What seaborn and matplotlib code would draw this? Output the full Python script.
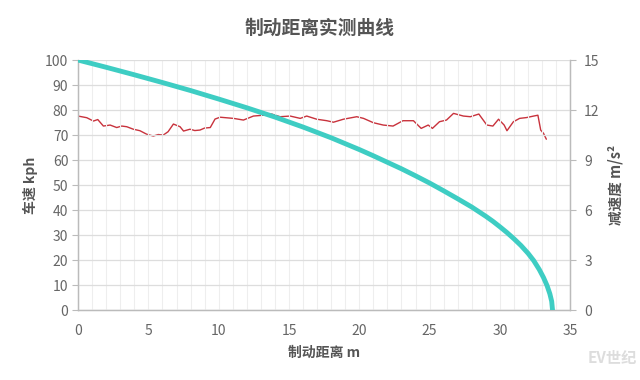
import matplotlib
matplotlib.use('Agg')
import matplotlib.pyplot as plt
import seaborn as sns
import pandas as pd
from matplotlib.ticker import MultipleLocator

# ---- data ----
dist = [0, 2, 4, 6, 8, 10, 12, 14, 16, 18, 20, 21, 22, 23, 24, 25, 26, 27,
        28, 29, 29.5, 30, 30.5, 31, 31.5, 32, 32.4, 32.8, 33.1, 33.35,
        33.55, 33.68, 33.74]
speed = [100, 97.1, 94.1, 91.0, 87.8, 84.4, 80.9, 77.2, 73.2, 68.9, 64.2,
         61.7, 59.1, 56.5, 53.7, 50.8, 47.7, 44.5, 41.2, 37.5, 35.5, 33.3,
         31.0, 28.5, 25.8, 22.7, 19.8, 16.2, 13.0, 9.8, 6.5, 3.5, 0]

dec_dist = [0, 0.62, 1.09, 1.4, 1.8, 2.28, 2.75, 3.1, 3.46, 3.93, 4.4, 4.88,
            5.35, 5.7, 6.06, 6.4, 6.78, 7.25, 7.5, 7.96, 8.3, 8.67, 9.0, 9.4,
            9.74, 10.1, 11.05, 11.76, 12.47, 13.18, 13.77, 14.37, 15.08, 15.8,
            16.26, 16.97, 17.69, 18.16, 18.87, 19.82, 20.3, 21.0, 21.7, 22.4,
            23.1, 23.85, 24.4, 24.9, 25.2, 25.7, 26.2, 26.7, 27.4, 27.9, 28.5,
            29.07, 29.5, 29.9, 30.3, 30.5, 30.96, 31.4, 31.9, 32.4, 32.7,
            32.9, 33.1, 33.3]
decel = [11.64, 11.54, 11.34, 11.43, 11.04, 11.1, 10.95, 11.04, 11.0, 10.85,
         10.76, 10.55, 10.44, 10.53, 10.5, 10.7, 11.16, 11.0, 10.74, 10.85,
         10.77, 10.8, 10.92, 10.95, 11.46, 11.57, 11.5, 11.4, 11.64, 11.69,
         11.76, 11.6, 11.64, 11.5, 11.64, 11.45, 11.36, 11.27, 11.45, 11.6,
         11.5, 11.24, 11.1, 11.04, 11.36, 11.36, 10.9, 11.1, 10.9, 11.3, 11.4,
         11.8, 11.64, 11.6, 11.76, 11.1, 11.04, 11.45, 11.1, 10.76, 11.3,
         11.5, 11.55, 11.64, 11.69, 10.8, 10.6, 10.25]

df_speed = pd.DataFrame({'dist': dist, 'speed': speed})
df_dec = pd.DataFrame({'dist': dec_dist, 'decel': decel})

sns.set_theme(style='white')
plt.rcParams['font.family'] = ['Noto Sans CJK SC', 'DejaVu Sans']

fig = plt.figure(figsize=(6.4, 3.8), dpi=100)
ax = fig.add_axes([0.122, 0.184, 0.769, 0.658])
ax2 = ax.twinx()

grey = '#666666'
spine = '#bbbbbb'

# grid
ax.set_axisbelow(True)
ax.xaxis.set_minor_locator(MultipleLocator(1))
ax.grid(which='minor', axis='x', color='#eeeeee', lw=0.8)
ax.grid(which='major', axis='x', color='#eeeeee', lw=0.8)
ax.grid(which='major', axis='y', color='#dddddd', lw=0.9)

sns.lineplot(data=df_dec, x='dist', y='decel', ax=ax2, color='#c8323c',
             lw=1.0)
sns.lineplot(data=df_speed, x='dist', y='speed', ax=ax, color='#3ecdc3',
             lw=3.5, zorder=5)
ax.set_zorder(ax2.get_zorder() + 1)
ax.patch.set_visible(False)

ax.set_xlim(0, 35)
ax.set_ylim(0, 100)
ax2.set_ylim(0, 15)
ax.set_xticks(range(0, 36, 5))
ax.set_yticks(range(0, 101, 10))
ax2.set_yticks(range(0, 16, 3))

for a in (ax, ax2):
    for s in a.spines.values():
        s.set_color(spine)
        s.set_linewidth(0.9)
    a.spines['top'].set_visible(False)
    a.tick_params(axis='both', which='major', colors=spine, labelcolor=grey,
                  labelsize=10, length=4, width=0.8, direction='out')
    a.tick_params(axis='x', which='minor', length=0)
ax.tick_params(axis='x', pad=6)
ax.tick_params(axis='y', left=True, pad=3)
ax2.tick_params(axis='y', right=True, pad=6)

lab = dict(fontsize=10, fontweight='bold', color='#555555')
ax.set_xlabel('制动距离 m', labelpad=6, **lab)
ax.set_ylabel('车速 kph', labelpad=5, **lab)
ax2.set_ylabel('减速度 m/s²', labelpad=6, fontsize=10.5, fontweight='bold',
               color='#555555')

fig.text(0.5, 0.926, '制动距离实测曲线', ha='center', va='center',
         fontsize=13.5, fontweight='bold', color='#555555')
fig.text(0.995, 0.058, 'EV世纪', ha='right', va='center', fontsize=11,
         fontweight='bold', style='italic', color='#dddddd')

fig.savefig('out.png', dpi=100)
